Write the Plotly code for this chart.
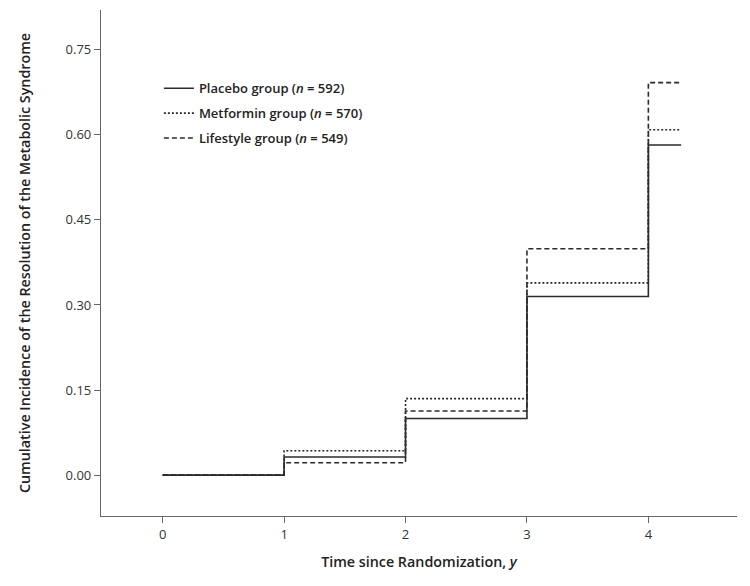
import plotly.graph_objects as go

# ── Data ───────────────────────────────────────────────────────────────────
years = [0, 1, 2, 3, 4, 4.27]

placebo   = [0.000, 0.032, 0.100, 0.315, 0.582, 0.582]
metformin = [0.000, 0.043, 0.135, 0.339, 0.609, 0.609]
lifestyle = [0.000, 0.022, 0.113, 0.399, 0.692, 0.692]

labels = [
    "Placebo group (<i>n</i> = 592)",
    "Metformin group (<i>n</i> = 570)",
    "Lifestyle group (<i>n</i> = 549)",
]

y_ticks = [0.00, 0.15, 0.30, 0.45, 0.60, 0.75]
x_ticks = [0, 1, 2, 3, 4]

FONT = "Open Sans, Noto Sans, sans-serif"
INK = "#2b2b2b"

fig = go.Figure()

for i, (vals, dash, name) in enumerate([
    (placebo, "solid", labels[0]),
    (metformin, "2px,2px", labels[1]),
    (lifestyle, "5px,3px", labels[2]),
]):
    fig.add_trace(go.Scatter(
        x=years, y=vals, name=name,
        mode="lines", line_shape="hv",
        line=dict(color=INK, width=1.6, dash=dash),
        legendgroup=f"g{i}",
    ))

axis_common = dict(
    showline=True, linecolor="#666666", linewidth=1.3,
    ticks="outside", ticklen=6, tickcolor="#666666", tickwidth=1.2,
    showgrid=False, zeroline=False, automargin=False,
    tickfont=dict(size=13, color="#333333", family=FONT),
)

# page body adds an 8px offset, so margins are trimmed on top/left
fig.update_layout(
    width=750, height=586,
    paper_bgcolor="white", plot_bgcolor="white",
    margin=dict(l=93, r=21, t=2, b=78),
    font=dict(family=FONT, color="#222222"),
    showlegend=True,
    legend=dict(
        x=0.091, y=0.875, xanchor="left", yanchor="top",
        bgcolor="rgba(0,0,0,0)",
        font=dict(size=13, color="#222222", family=FONT, weight=600),
        tracegroupgap=5,
    ),
    xaxis=dict(
        range=[-0.508, 4.73], tickvals=x_ticks,
        title=dict(text="Time since Randomization, <i>y</i>",
                   font=dict(size=14.3, weight=600, family=FONT), standoff=15),
        **axis_common,
    ),
    yaxis=dict(
        range=[-0.072, 0.82], tickvals=y_ticks, tickformat=".2f",
        title=dict(text="Cumulative Incidence of the Resolution of the Metabolic Syndrome",
                   font=dict(size=14.3, weight=600, family=FONT), standoff=31),
        **axis_common,
    ),
)

fig.write_html("out.html")
